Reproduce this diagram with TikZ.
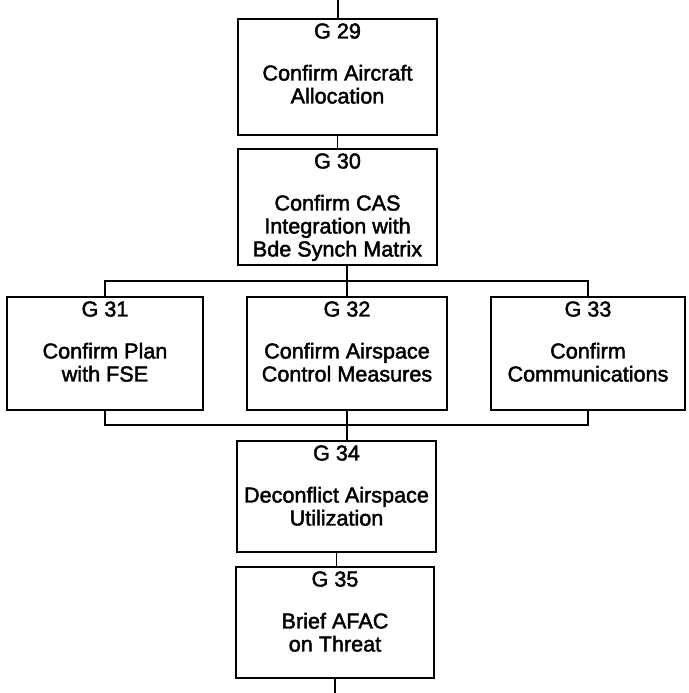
\documentclass[tikz,border=0pt]{standalone}
\usepackage{fontspec}
\setmainfont{Liberation Sans}
\newfontfamily\goalfont[FakeBold=2]{Liberation Sans}
\usetikzlibrary{calc}

\begin{document}
\begin{tikzpicture}[%
x=1pt, y=-1pt,
gbox/.style={draw, line width=1.6pt, minimum width=199pt, minimum height=116pt, inner sep=0pt},
gtext/.style={anchor=north, align=center, inner sep=0pt, font=\goalfont\fontsize{21.6}{23}\selectfont},
link/.style={line width=1.6pt},
]
\useasboundingbox (0,0) rectangle (688,693);
%% goal boxes;
\node [gbox] (g29) at (337.5,77) {};
\node [gbox] (g30) at (337.5,207) {};
\node [gbox, minimum width=196pt, minimum height=113pt] (g31) at (105,353.5) {};
\node [gbox, minimum width=200pt, minimum height=113pt] (g32) at (347,353.5) {};
\node [gbox, minimum width=194pt, minimum height=113pt] (g33) at (588,353.5) {};
\node [gbox, minimum height=111pt] (g34) at (336.5,496.5) {};
\node [gbox, minimum width=198pt, minimum height=111pt] (g35) at (335,622.5) {};
%% goal texts;
\node [gtext] (g29t) at ([yshift=-5pt]g29.north) {G 29\\[19pt]Confirm Aircraft\\Allocation};
\node [gtext] (g30t) at ([yshift=-5pt]g30.north) {G 30\\[19pt]Confirm CAS\\Integration with\\Bde Synch Matrix};
\node [gtext] (g31t) at ([yshift=-5pt]g31.north) {G 31\\[19pt]Confirm Plan\\with FSE};
\node [gtext] (g32t) at ([yshift=-5pt]g32.north) {G 32\\[19pt]Confirm Airspace\\Control Measures};
\node [gtext] (g33t) at ([yshift=-5pt]g33.north) {G 33\\[19pt]Confirm\\Communications};
\node [gtext] (g34t) at ([yshift=-5pt]g34.north) {G 34\\[19pt]Deconflict Airspace\\Utilization};
\node [gtext] (g35t) at ([yshift=-5pt]g35.north) {G 35\\[19pt]Brief AFAC\\on Threat};
%% links;
\coordinate (in) at (338,0);
\coordinate (out) at (335,693);
\coordinate (fork) at (347,281);
\coordinate (join) at (345,425);
\draw [link] (in) -- (in |- g29.north);
\draw [link] (g29.south) -- (g30.north);
\draw [link] (g31.north) |- (fork) -| (g33.north);
\draw [link] (g30.south -| g32.north) -- (g32.north);
\draw [link] (g31.south) |- (join) -| (g33.south);
\draw [link] (g32.south) -- (g32.south |- g34.north);
\draw [link] (g34.south) -- (g34.south |- g35.north);
\draw [link] (g35.south) -- (out);
\end{tikzpicture}
\end{document}
